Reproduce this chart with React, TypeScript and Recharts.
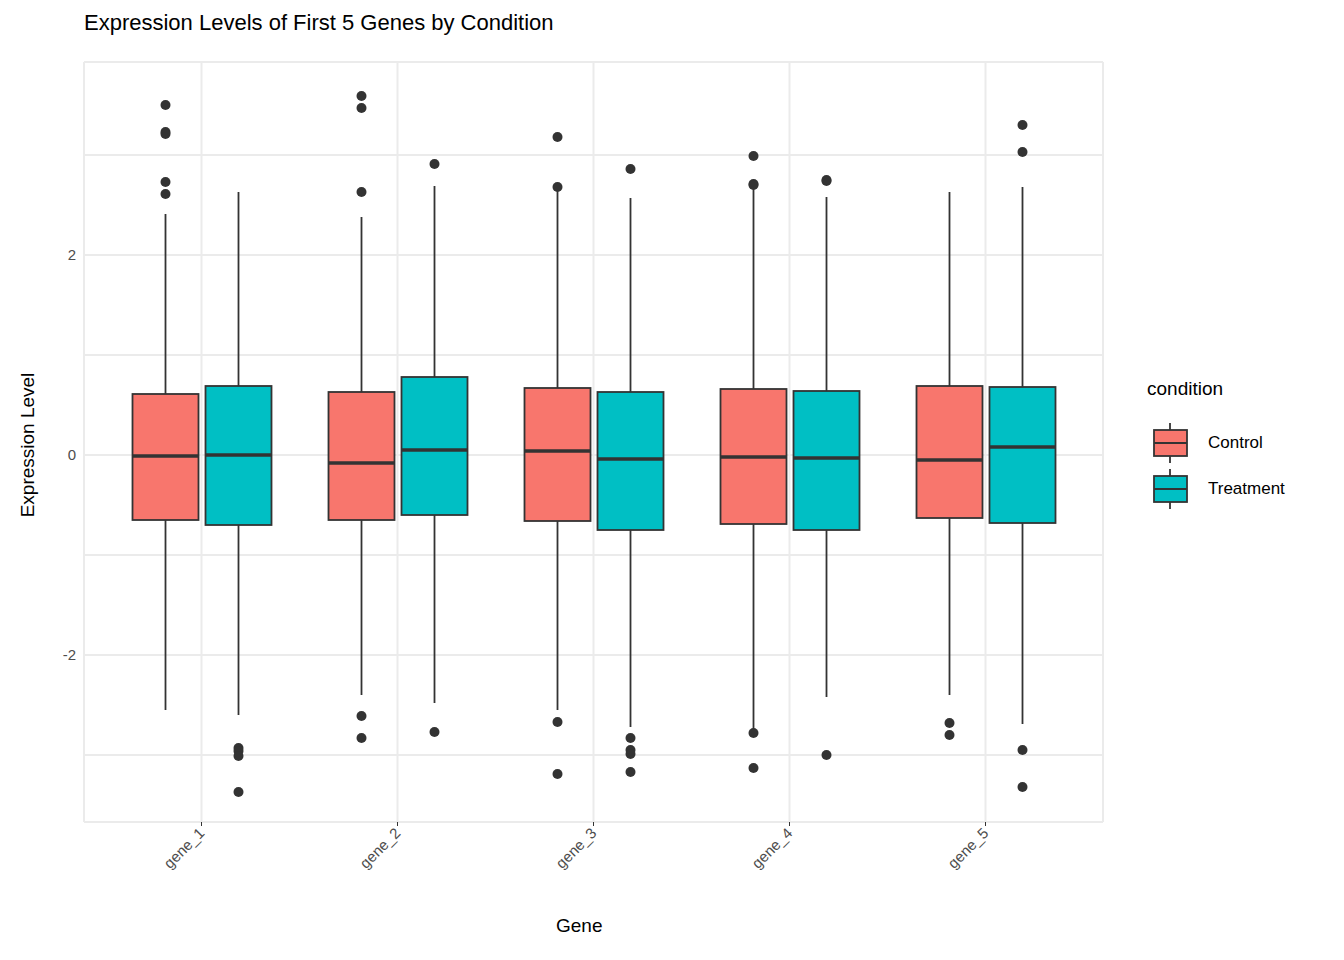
import React from 'react';
import { ComposedChart, Bar, XAxis, YAxis, CartesianGrid } from 'recharts';

const genes = ['gene_1', 'gene_2', 'gene_3', 'gene_4', 'gene_5'];
const ctrlQ1 = [-0.65, -0.65, -0.66, -0.69, -0.63];
const ctrlMed = [-0.01, -0.08, 0.04, -0.02, -0.05];
const ctrlQ3 = [0.61, 0.63, 0.67, 0.66, 0.69];
const ctrlLo = [-2.55, -2.4, -2.55, -2.75, -2.4];
const ctrlHi = [2.41, 2.38, 2.67, 2.69, 2.63];
const ctrlOut = [
  [3.5, 3.23, 3.21, 2.73, 2.61],
  [3.59, 3.47, 2.63, -2.61, -2.83],
  [3.18, 2.68, -2.67, -3.19],
  [2.99, 2.71, 2.7, -2.78, -3.13],
  [-2.68, -2.8],
];
const trtQ1 = [-0.7, -0.6, -0.75, -0.75, -0.68];
const trtMed = [0.0, 0.05, -0.04, -0.03, 0.08];
const trtQ3 = [0.69, 0.78, 0.63, 0.64, 0.68];
const trtLo = [-2.6, -2.48, -2.72, -2.42, -2.69];
const trtHi = [2.63, 2.69, 2.57, 2.58, 2.68];
const trtOut = [
  [-2.93, -2.96, -3.01, -3.37],
  [2.91, -2.77],
  [2.86, -2.83, -2.95, -2.99, -3.17],
  [2.75, 2.74, -3.0],
  [3.3, 3.03, -2.95, -3.32],
];
const yTicks = [-3, -2, -1, 0, 1, 2, 3];

const data = genes.map((g, i) => ({
  gene: g,
  ctrl: [ctrlQ1[i], ctrlQ3[i]],
  trt: [trtQ1[i], trtQ3[i]],
  c: { q1: ctrlQ1[i], med: ctrlMed[i], q3: ctrlQ3[i], lo: ctrlLo[i], hi: ctrlHi[i], out: ctrlOut[i] },
  t: { q1: trtQ1[i], med: trtMed[i], q3: trtQ3[i], lo: trtLo[i], hi: trtHi[i], out: trtOut[i] },
}));

const makeBox = (key: 'c' | 't', fill: string) => (props: any) => {
  const { x, y, width, height, payload } = props;
  const s = payload[key];
  const k = height / (s.q3 - s.q1);
  const py = (v: number) => y + (s.q3 - v) * k;
  const cx = x + width / 2;
  return (
    <g>
      <line x1={cx} x2={cx} y1={py(s.hi)} y2={py(s.q3)} stroke="#333" strokeWidth={1.8} />
      <line x1={cx} x2={cx} y1={py(s.q1)} y2={py(s.lo)} stroke="#333" strokeWidth={1.8} />
      <rect x={x} y={y} width={width} height={height} fill={fill} stroke="#333" strokeWidth={1.8} />
      <line x1={x} x2={x + width} y1={py(s.med)} y2={py(s.med)} stroke="#333" strokeWidth={3.6} />
      {s.out.map((v: number, j: number) => (
        <circle key={j} cx={cx} cy={py(v)} r={5} fill="#333" />
      ))}
    </g>
  );
};

const XTick = (props: any) => {
  const { x, y, payload } = props;
  return (
    <text x={x + 4} y={y + 6} transform={`rotate(-45 ${x + 4} ${y + 6})`} textAnchor="end" fontSize={15} fill="#4d4d4d" fontFamily="Liberation Sans">
      {payload.value}
    </text>
  );
};

export default function App() {
  const font = 'Liberation Sans, Arial, sans-serif';
  return (
    <div style={{ position: 'absolute', left: 0, top: 0, width: 1344, height: 960, fontFamily: font, background: '#fff' }}>
      <ComposedChart width={1344} height={960} data={data} margin={{ top: 62, right: 241, bottom: 0, left: 0 }} barGap={7} barSize={66}>
        <CartesianGrid stroke="#ebebeb" strokeWidth={2} />
        <XAxis dataKey="gene" padding={{ left: 19.5, right: 19.5 }} axisLine={false} tickLine={{ stroke: '#333' }} tickSize={4} height={138} tick={<XTick />} interval={0} />
        <YAxis type="number" domain={[-3.67, 3.93]} ticks={yTicks} width={84} axisLine={false} tickLine={false}
          tickFormatter={(v: number) => (v % 2 === 0 ? String(v) : '')}
          tick={{ fontSize: 15, fill: '#4d4d4d', fontFamily: font }} allowDataOverflow />
        <Bar dataKey="ctrl" isAnimationActive={false} shape={makeBox('c', '#F8766D')} />
        <Bar dataKey="trt" isAnimationActive={false} shape={makeBox('t', '#00BFC4')} />
      </ComposedChart>
      <div style={{ position: 'absolute', left: 84, top: 10, fontSize: 22, color: '#000' }}>Expression Levels of First 5 Genes by Condition</div>
      <div style={{ position: 'absolute', left: 556, top: 915, fontSize: 19 }}>Gene</div>
      <div style={{ position: 'absolute', left: 28, top: 445, fontSize: 19, transform: 'translate(-50%,-50%) rotate(-90deg)', whiteSpace: 'nowrap' }}>Expression Level</div>
      <div style={{ position: 'absolute', left: 1147, top: 378, fontSize: 19 }}>condition</div>
      {[['Control', '#F8766D', 423], ['Treatment', '#00BFC4', 469]].map(([lab, col, top]: any) => (
        <div key={lab} style={{ position: 'absolute', left: 1147, top }}>
          <svg width={46} height={40} style={{ position: 'absolute', left: 0, top: 0 }}>
            <line x1={23} x2={23} y1={0} y2={40} stroke="#333" strokeWidth={1.8} />
            <rect x={7} y={7} width={33} height={26} fill={col} stroke="#333" strokeWidth={1.8} />
            <line x1={7} x2={40} y1={20} y2={20} stroke="#333" strokeWidth={1.8} />
          </svg>
          <div style={{ position: 'absolute', left: 61, top: 10, fontSize: 17, whiteSpace: 'nowrap' }}>{lab}</div>
        </div>
      ))}
    </div>
  );
}
